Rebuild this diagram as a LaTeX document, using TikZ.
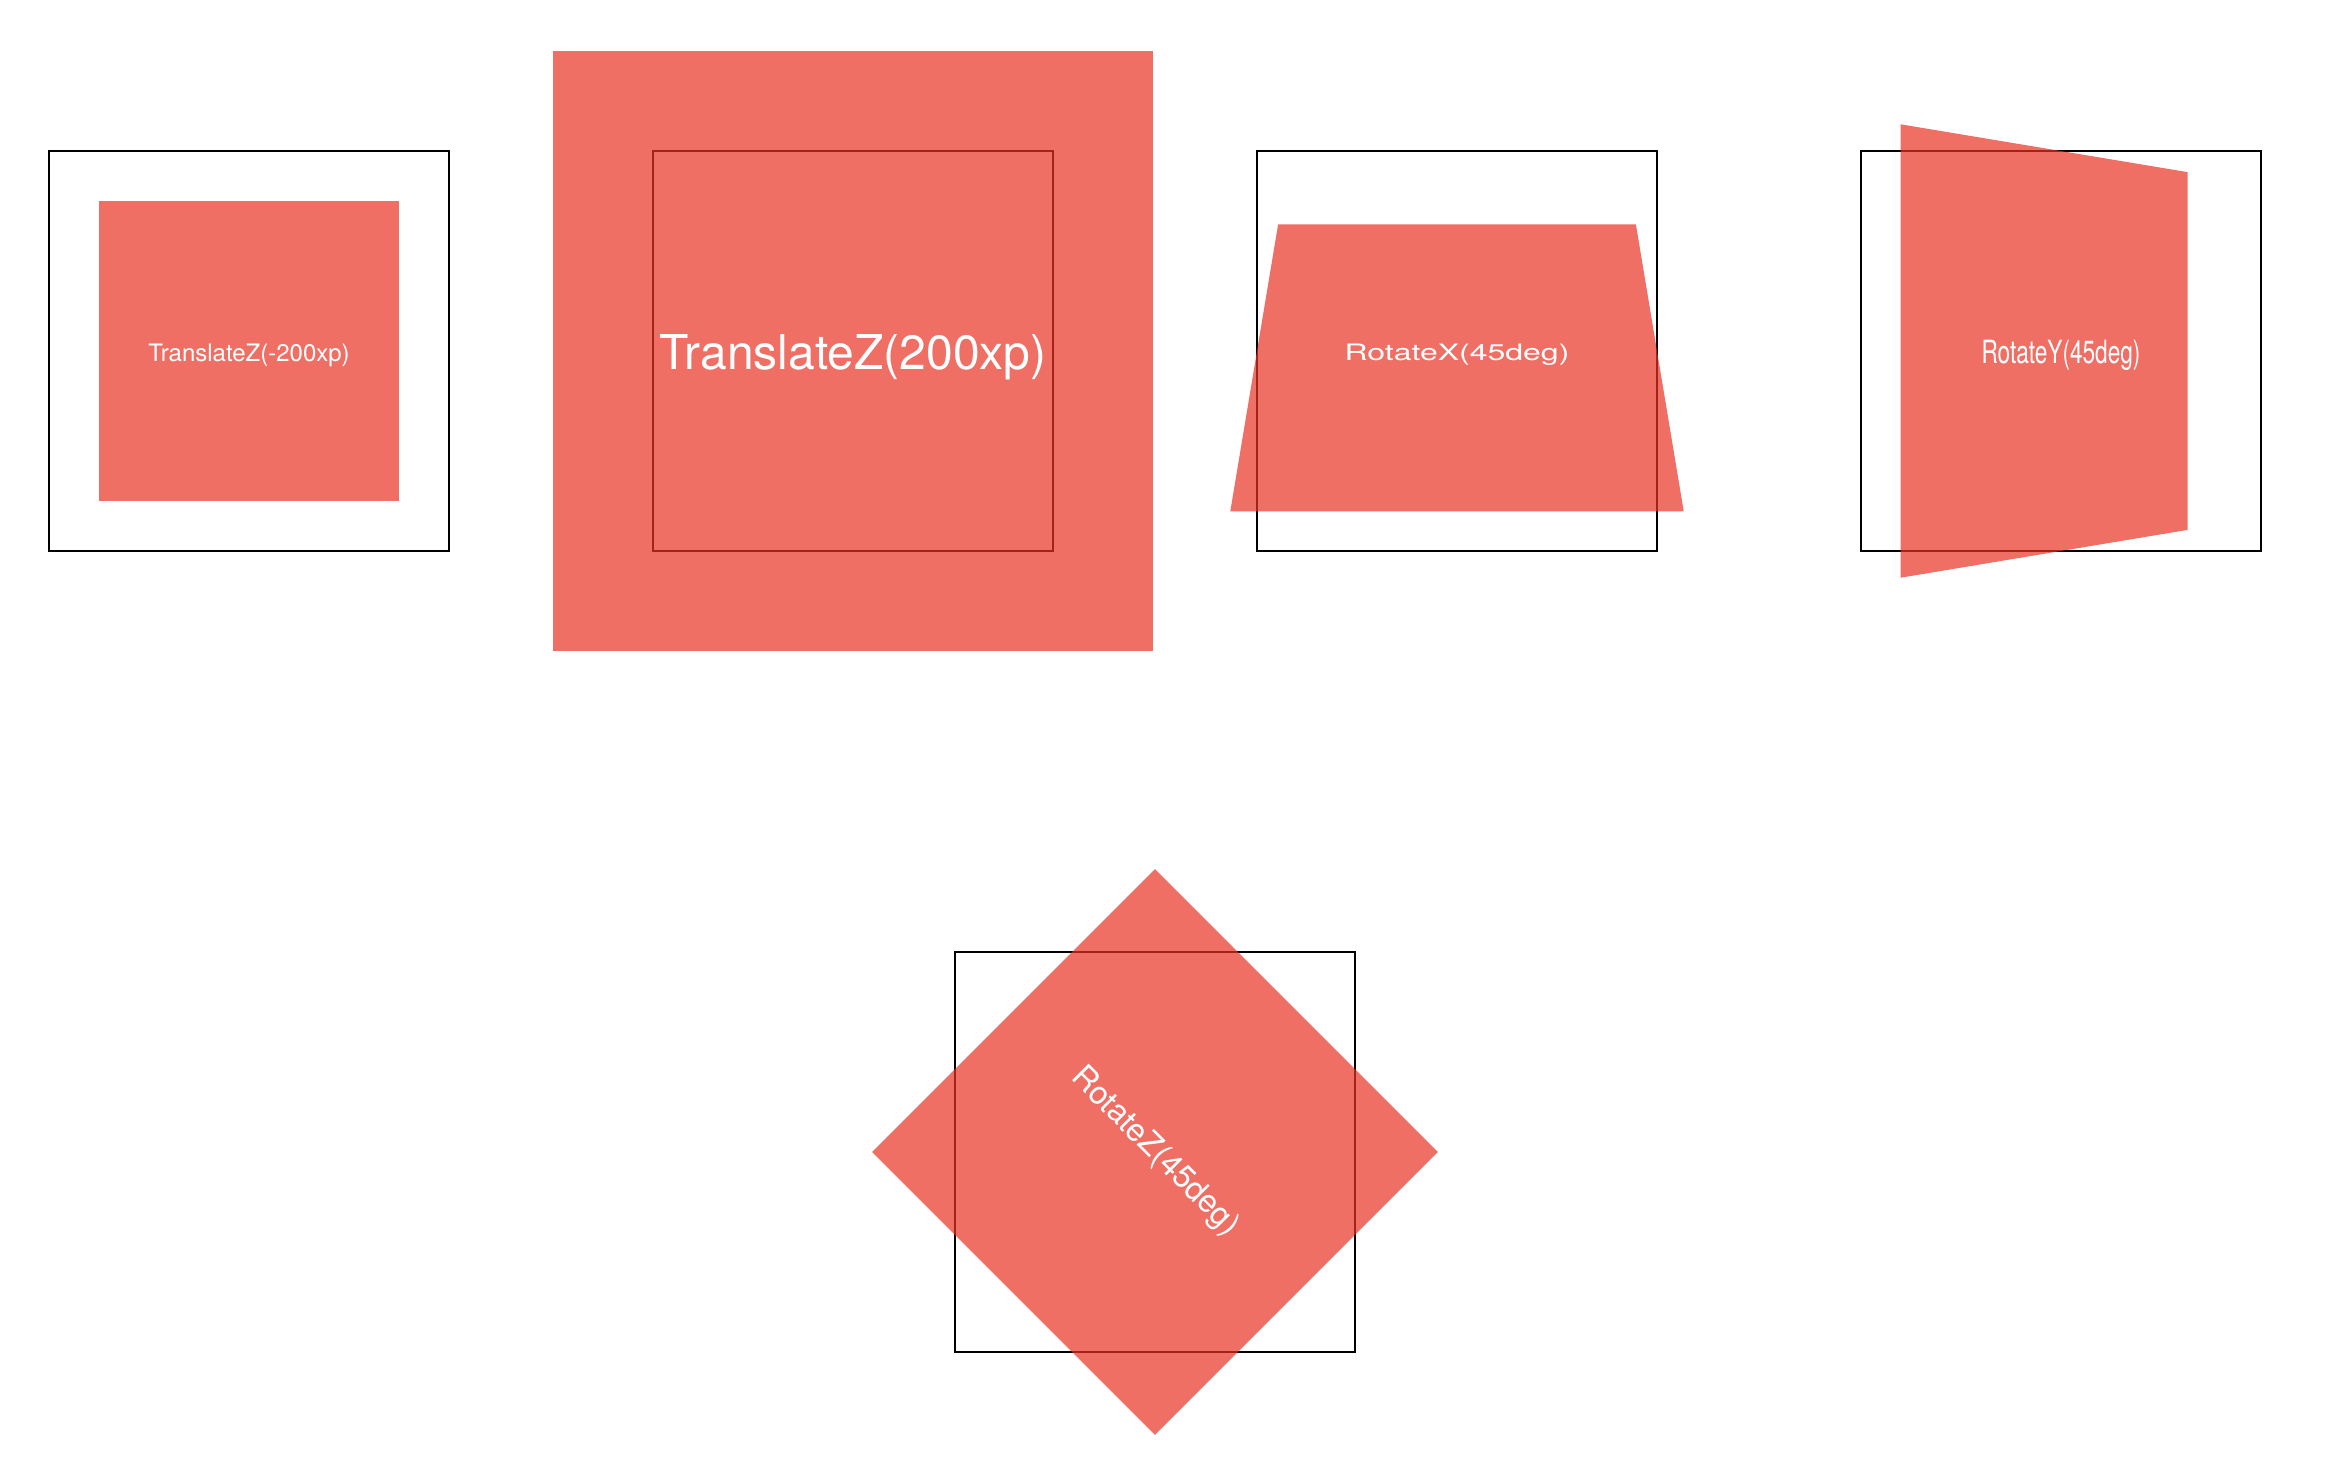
\documentclass[tikz,border=0pt]{standalone}
\usepackage{graphicx}
\usepackage{fontspec}
\setmainfont{TeX Gyre Heros}
\definecolor{boxred}{RGB}{233,50,36}
\begin{document}
\begin{tikzpicture}[x=0.5pt,y=-0.5pt,
  frame/.style={draw=black,line width=1pt,minimum size=200pt,inner sep=0pt},
  redfill/.style={fill=boxred,fill opacity=0.7},
  lbl/.style={text=white,inner sep=0pt,font=\fontsize{16}{19}\selectfont}]
\useasboundingbox (0,0) rectangle (2340,1466);
% frames
\node[frame] (b1) at (249,351) {};
\node[frame] (b2) at (853,351) {};
\node[frame] (b3) at (1457,351) {};
\node[frame] (b4) at (2061,351) {};
\node[frame] (b5) at (1155,1152) {};
% transformed squares
\fill[redfill] (99,201) rectangle (399,501);
\fill[redfill] (553,51) rectangle (1153,651);
\fill[redfill] (1278.1,224.5) -- (1635.9,224.5) -- (1683.7,511.3) -- (1230.3,511.3) -- cycle;
\fill[redfill] (1900.7,124.3) -- (2187.5,172.1) -- (2187.5,529.9) -- (1900.7,577.7) -- cycle;
\fill[redfill] (1155,869.2) -- (1437.8,1152) -- (1155,1434.8) -- (872.2,1152) -- cycle;
% labels
\node[lbl,font=\fontsize{12}{14}\selectfont] (t1) at (249,355) {TranslateZ(-200xp)};
\node[lbl,font=\fontsize{24}{28}\selectfont] (t2) at (853,357) {TranslateZ(200xp)};
\node[lbl] (t3) at (1457,355) {\scalebox{1}[0.707]{RotateX(45deg)}};
\node[lbl] (t4) at (2061,355) {\scalebox{0.707}[1]{RotateY(45deg)}};
\node[lbl,rotate=-45] (t5) at (1155,1152) {RotateZ(45deg)};
\end{tikzpicture}
\end{document}
